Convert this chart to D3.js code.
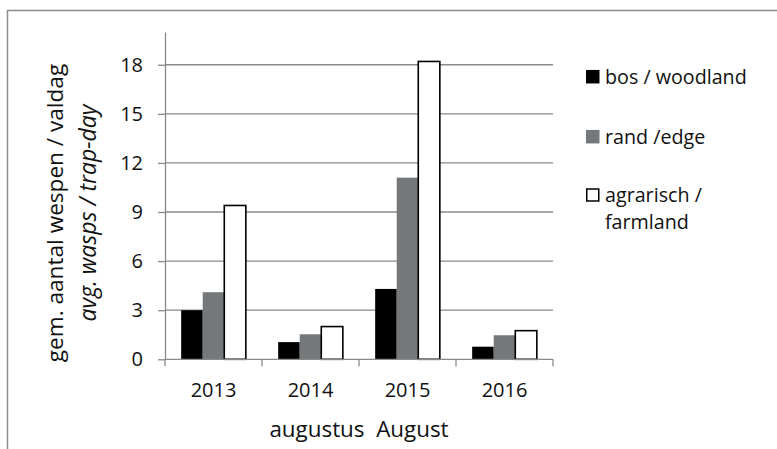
<!DOCTYPE html>
<html>
<head>
<meta charset="utf-8">
<script src="https://cdn.jsdelivr.net/npm/d3@7"></script>
<style>
    html, body { margin: 0; padding: 0; background: #fff; }
    svg { display: block; font-family: "Open Sans", sans-serif; }
</style>
</head>
<body>
<div id="chart"></div>
<script>
/* grouped bar chart: wasps per trap-day in August */

const years = ['2013', '2014', '2015', '2016'];
const seriesNames = ['bos / woodland', 'rand /edge', 'agrarisch / farmland'];
const woodland = [3.0, 1.05, 4.3, 0.77];
const edge = [4.1, 1.53, 11.1, 1.47];
const farmland = [9.4, 2.0, 18.2, 1.75];
const yTicks = [0, 3, 6, 9, 12, 15, 18];

const width = 777, height = 449;
const plot = { left: 165, right: 553, top: 32, bottom: 359.3 };
const fills = ['#000000', '#75787a', '#ffffff'];
const gridColor = '#8a8a8a';
const textColor = '#111';

const svg = d3.select('#chart')
    .append('svg')
    .attr('width', width)
    .attr('height', height);

// outer chart frame (only top and left edges visible)
svg.append('rect')
    .attr('x', 7.5).attr('y', 10.5)
    .attr('width', width + 20).attr('height', height + 20)
    .attr('fill', '#fff')
    .attr('stroke', '#8c8c8c')
    .attr('stroke-width', 1.5);

const x = d3.scaleBand()
    .domain(years)
    .range([plot.left, plot.right]);

// gap width 150% -> 3 bars + 1.5 bars of gap per category
const barW = x.bandwidth() / 4.5;
const x1 = d3.scaleBand()
    .domain(d3.range(seriesNames.length))
    .range([barW * 0.75, barW * 3.75]);

const y = d3.scaleLinear()
    .domain([0, 20])
    .range([plot.bottom, plot.top]);

// gridlines
svg.append('g')
    .selectAll('line')
    .data(yTicks.filter(d => d > 0))
    .join('line')
    .attr('x1', plot.left).attr('x2', plot.right)
    .attr('y1', d => y(d)).attr('y2', d => y(d))
    .attr('stroke', gridColor)
    .attr('stroke-width', 1.3);

// y axis
const yAxis = svg.append('g')
    .attr('transform', `translate(${plot.left},0)`)
    .call(d3.axisLeft(y).tickValues(yTicks).tickSize(7).tickSizeOuter(0).tickPadding(15));
yAxis.select('.domain').attr('stroke', gridColor).attr('stroke-width', 1.3);
yAxis.selectAll('.tick line').attr('stroke', gridColor).attr('stroke-width', 1.3);
yAxis.selectAll('.tick text')
    .attr('font-size', 20)
    .attr('font-family', '"Open Sans", sans-serif')
    .attr('fill', textColor);

// bars
const table = years.map((yr, i) => ({ year: yr, values: [woodland[i], edge[i], farmland[i]] }));

svg.append('g')
    .selectAll('g')
    .data(table)
    .join('g')
    .attr('transform', d => `translate(${x(d.year)},0)`)
    .selectAll('rect')
    .data(d => d.values.map((v, k) => ({ v, k })))
    .join('rect')
    .attr('x', d => x1(d.k))
    .attr('width', x1.bandwidth())
    .attr('y', d => y(d.v))
    .attr('height', d => y(0) - y(d.v))
    .attr('fill', d => fills[d.k])
    .attr('stroke', d => d.k === 2 ? '#000' : 'none')
    .attr('stroke-width', 1.6);

// x axis
const xAxisScale = d3.scaleLinear().domain([0, years.length]).range([plot.left, plot.right]);
const xAxis = svg.append('g')
    .attr('transform', `translate(0,${plot.bottom})`);
xAxis.append('line')
    .attr('x1', plot.left).attr('x2', plot.right)
    .attr('stroke', gridColor).attr('stroke-width', 1.3);
xAxis.selectAll('.xtick')
    .data(d3.range(years.length + 1))
    .join('line')
    .attr('class', 'xtick')
    .attr('x1', d => xAxisScale(d)).attr('x2', d => xAxisScale(d))
    .attr('y1', 0).attr('y2', 7)
    .attr('stroke', gridColor).attr('stroke-width', 1.3);
xAxis.selectAll('.xlabel')
    .data(years)
    .join('text')
    .attr('class', 'xlabel')
    .attr('x', d => x(d) + x.bandwidth() / 2)
    .attr('y', 38)
    .attr('text-anchor', 'middle')
    .attr('font-size', 20)
    .attr('fill', textColor)
    .text(d => d);

// x axis title
svg.append('text')
    .attr('x', (plot.left + plot.right) / 2)
    .attr('y', 437)
    .attr('text-anchor', 'middle')
    .attr('font-size', 22.4)
    .attr('fill', textColor)
    .attr('xml:space', 'preserve')
    .style('white-space', 'pre')
    .text('augustus  August');

// y axis title, two lines
const yTitle = svg.append('text')
    .attr('transform', 'translate(0,213) rotate(-90)')
    .attr('text-anchor', 'middle')
    .attr('fill', textColor);
yTitle.append('tspan')
    .attr('x', 0).attr('y', 63)
    .attr('font-size', 22.6)
    .text('gem. aantal wespen / valdag');
yTitle.append('tspan')
    .attr('x', 0).attr('y', 95.5)
    .attr('font-size', 23)
    .attr('font-style', 'italic')
    .text('avg. wasps / trap-day');

// legend
const legendRows = [
    { lines: ['bos / woodland'], cy: 76.7 },
    { lines: ['rand /edge'], cy: 136.7 },
    { lines: ['agrarisch /', 'farmland'], cy: 195 }
];
const legend = svg.append('g');
legendRows.forEach((row, i) => {
    legend.append('rect')
        .attr('x', i === 2 ? 586.75 : 586)
        .attr('y', i === 2 ? row.cy - 6 : row.cy - 6.75)
        .attr('width', i === 2 ? 12 : 13.5)
        .attr('height', i === 2 ? 12 : 13.5)
        .attr('fill', fills[i])
        .attr('stroke', i === 2 ? '#000' : 'none')
        .attr('stroke-width', 1.5);
    row.lines.forEach((ln, j) => {
        legend.append('text')
            .attr('x', 605)
            .attr('y', row.cy + j * 26.7)
            .attr('dy', '0.35em')
            .attr('font-size', 19.7)
            .attr('fill', textColor)
            .text(ln);
    });
});
</script>
</body>
</html>
